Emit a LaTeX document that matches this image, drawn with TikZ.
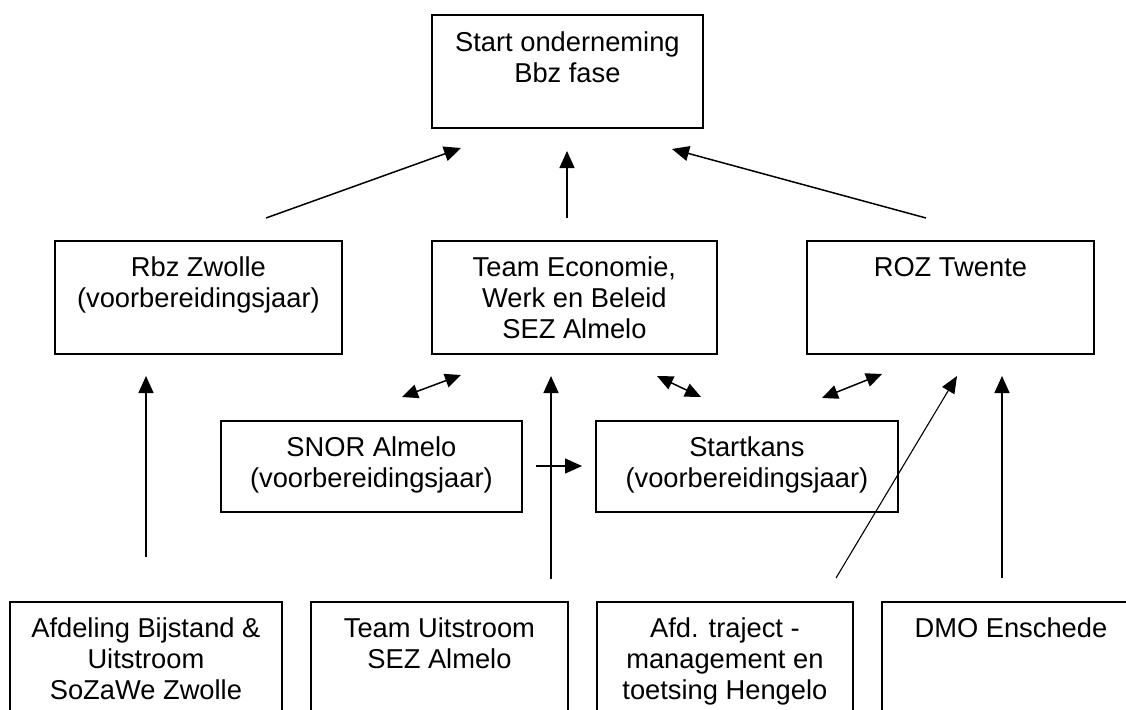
\documentclass[tikz,border=0pt]{standalone}
\usepackage{fontspec}
\setmainfont{Liberation Sans}
\usetikzlibrary{arrows.meta}
\begin{document}
\begin{tikzpicture}[x=1pt,y=-1pt,
  box/.style={draw, line width=1.8pt, inner sep=0pt, anchor=north west},
  lbl/.style={anchor=north, align=center, inner sep=0pt, font=\fontsize{27.3}{31}\selectfont},
  arr/.style={-{Triangle[length=17pt,width=15pt]}, line width=1.5pt},
  thinarr/.style={-{Triangle[length=17pt,width=14pt]}, line width=1.1pt},
  darr/.style={{Triangle[length=16pt,width=14pt]}-{Triangle[length=16pt,width=14pt]}, line width=1.5pt}]
\useasboundingbox (0,0) rectangle (1126,709);
\clip (0,0) rectangle (1126,709);
% boxes
\node[box, minimum width=271pt, minimum height=113pt] (top) at (431,14) {};
\node[box, minimum width=287pt, minimum height=113pt] (rbz) at (54,240) {};
\node[box, minimum width=285pt, minimum height=113pt] (team) at (431,240) {};
\node[box, minimum width=287pt, minimum height=113pt] (roz) at (806,240) {};
\node[box, minimum width=301pt, minimum height=91pt] (snor) at (220,420) {};
\node[box, minimum width=302pt, minimum height=91pt] (start) at (595,420) {};
\node[box, minimum width=272pt, minimum height=140pt] (afd) at (9,601) {};
\node[box, minimum width=257pt, minimum height=140pt] (tu) at (310,601) {};
\node[box, minimum width=256pt, minimum height=140pt] (atm) at (596,601) {};
\node[box, minimum width=258pt, minimum height=140pt] (dmo) at (881,601) {};
% labels
\node[lbl] (topt) at ([yshift=-15.3pt]top.north) {\strut Start onderneming\\Bbz fase};
\node[lbl] (rbzt) at ([yshift=-14.3pt]rbz.north) {\strut Rbz Zwolle\\(voorbereidingsjaar)};
\node[lbl] (teamt) at ([yshift=-14.3pt]team.north) {\strut Team Economie,\\Werk en Beleid\\SEZ Almelo};
\node[lbl] (rozt) at ([yshift=-14.3pt]roz.north) {\strut ROZ Twente};
\node[lbl] (snort) at ([yshift=-14.3pt]snor.north) {\strut SNOR Almelo\\(voorbereidingsjaar)};
\node[lbl] (startt) at ([yshift=-14.3pt]start.north) {\strut Startkans\\(voorbereidingsjaar)};
\node[lbl] (afdt) at ([yshift=-14.3pt]afd.north) {\strut Afdeling Bijstand \&\\Uitstroom\\SoZaWe Zwolle};
\node[lbl] (tut) at ([yshift=-14.3pt]tu.north) {\strut Team Uitstroom\\SEZ Almelo};
\node[lbl] (atmt) at ([yshift=-14.3pt]atm.north) {\strut Afd. traject -\\management en\\toetsing Hengelo};
\node[lbl] (dmot) at ([yshift=-14.3pt]dmo.north) {\strut DMO Enschede};
% arrow end points
\coordinate (a1s) at (266,218); \coordinate (a1e) at (461,148);
\coordinate (a2s) at (567,218); \coordinate (a2e) at (567,151);
\coordinate (a3s) at (926,218); \coordinate (a3e) at (672,149);
\coordinate (b1s) at (146,557); \coordinate (b1e) at (146,376);
\coordinate (b2s) at (551,579); \coordinate (b2e) at (551,376);
\coordinate (b3s) at (836,578); \coordinate (b3e) at (957,376);
\coordinate (b4s) at (1002,578); \coordinate (b4e) at (1002,376);
\coordinate (d1s) at (402,397); \coordinate (d1e) at (461,375);
\coordinate (d2s) at (657,376); \coordinate (d2e) at (701,397);
\coordinate (d3s) at (822,398); \coordinate (d3e) at (882,374);
\coordinate (hs) at (536,466); \coordinate (he) at (582,466);
% arrows
\draw[arr] (a1s) -- (a1e);
\draw[arr] (a2s) -- (a2e);
\draw[arr] (a3s) -- (a3e);
\draw[arr] (b1s) -- (b1e);
\draw[arr] (b2s) -- (b2e);
\draw[thinarr] (b3s) -- (b3e);
\draw[arr] (b4s) -- (b4e);
\draw[darr] (d1s) -- (d1e);
\draw[darr] (d2s) -- (d2e);
\draw[darr] (d3s) -- (d3e);
\draw[arr] (hs) -- (he);
\end{tikzpicture}
\end{document}
